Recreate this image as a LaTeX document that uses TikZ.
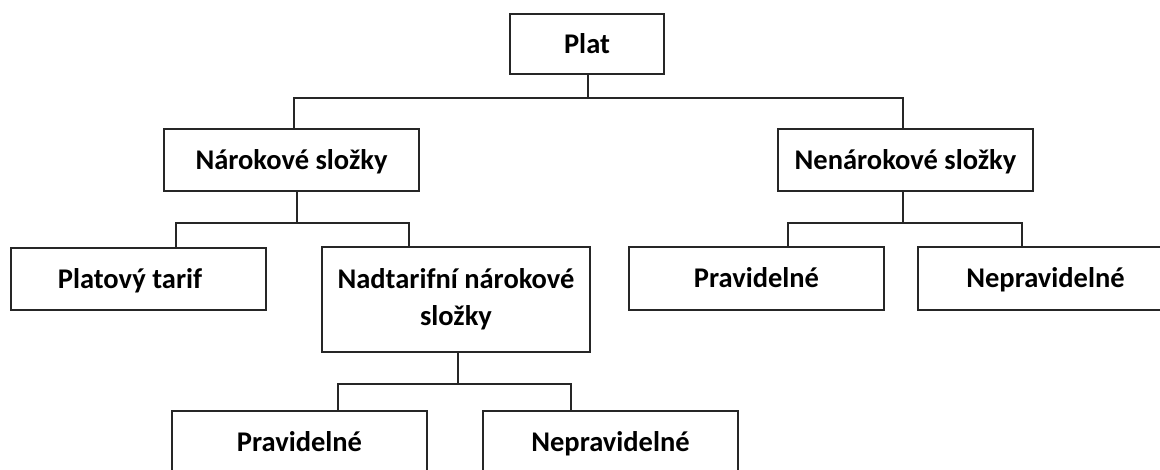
\documentclass[tikz,border=0pt]{standalone}
\usepackage{fontspec}
\setmainfont{Carlito}
\begin{document}
\begin{tikzpicture}[x=1pt,y=1pt,
  box/.style={draw=black!85, line width=1.8pt, fill=white, inner sep=0pt,
    font=\bfseries\fontsize{28.5}{37}\selectfont, text=black, align=center,
    minimum width=255pt, minimum height=62pt},
  onel/.style={text height=18.3pt, text depth=0pt},
  conn/.style={draw=black!85, line width=1.8pt}]
\useasboundingbox (0,0) rectangle (1160,-469);
\fill[white] (0,0) rectangle (1160,-469);
\clip (0,0) rectangle (1160,-469);

\node[box,onel,minimum width=154pt,minimum height=60pt] (plat) at (587,-44) {Plat};
\node[box,onel] (nar) at (291.5,-160) {Nárokové složky};
\node[box,onel] (nenar) at (905.5,-160) {Nenárokové složky};
\node[box,onel] (tarif) at (138.5,-279) {Platový tarif\hspace*{17pt}};
\node[box,minimum width=268pt,minimum height=105pt] (nadt) at (456,-299.5) {Nadtarifní nárokové\\složky};
\node[box,onel,minimum height=63pt] (prav1) at (756.5,-278.5) {Pravidelné};
\node[box,onel,minimum height=63pt] (neprav1) at (1045.5,-278.5) {Nepravidelné};
\node[box,onel,minimum height=63pt] (prav2) at (299.5,-442.5) {Pravidelné};
\node[box,onel,minimum height=63pt] (neprav2) at (610.5,-442.5) {Nepravidelné};

% level 1
\coordinate (j1) at ([xshift=1pt,yshift=-23pt]plat.south);
\draw[conn] ([xshift=1pt]plat.south) -- (j1);
\draw[conn] ([xshift=2.5pt]nar.north) |- (j1) -| ([xshift=-2.5pt]nenar.north);

% Narokove
\coordinate (j2) at ([xshift=5.5pt,yshift=-31pt]nar.south);
\draw[conn] ([xshift=5.5pt]nar.south) -- (j2);
\draw[conn] ([xshift=37.5pt]tarif.north) |- (j2) -| ([xshift=-47pt]nadt.north);

% Nenarokove
\coordinate (j3) at ([xshift=-2.5pt,yshift=-31pt]nenar.south);
\draw[conn] ([xshift=-2.5pt]nenar.south) -- (j3);
\draw[conn] ([xshift=31.5pt]prav1.north) |- (j3) -| ([xshift=-23.5pt]neprav1.north);

% Nadtarifni
\coordinate (j4) at ([xshift=2pt,yshift=-31pt]nadt.south);
\draw[conn] ([xshift=2pt]nadt.south) -- (j4);
\draw[conn] ([xshift=38.5pt]prav2.north) |- (j4) -| ([xshift=-39.5pt]neprav2.north);
\end{tikzpicture}
\end{document}
